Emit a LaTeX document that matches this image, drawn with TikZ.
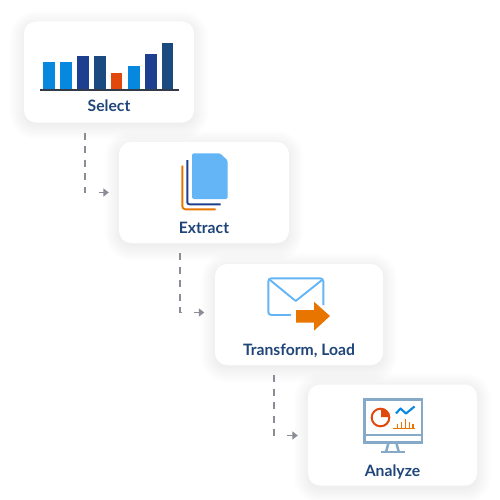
\documentclass[tikz,border=0pt]{standalone}
\usepackage{fontspec}
\setmainfont{Lato}
\usetikzlibrary{arrows.meta,calc}
\definecolor{txtc}{HTML}{1F4579}
\definecolor{blue1}{HTML}{0788DF}
\definecolor{navy1}{HTML}{1E3F8F}
\definecolor{navy2}{HTML}{1B4A80}
\definecolor{red1}{HTML}{E0480C}
\definecolor{org1}{HTML}{E87500}
\definecolor{sky1}{HTML}{63B5F6}
\definecolor{steel1}{HTML}{85A9C6}
\definecolor{gray1}{HTML}{8A8D96}
\definecolor{base1}{HTML}{333A4A}
\tikzset{
  x=1pt,y=-1pt,
  card/.style={draw=none,fill=white,rounded corners=12pt,inner sep=0pt,minimum width=#1,minimum height=101pt},
  lbl/.style={text=txtc,font=\fontsize{15.7}{17}\selectfont\bfseries,inner sep=0pt,anchor=base},
  conn/.style={draw=gray1,line width=1.9pt,dash pattern=on 7pt off 6.5pt},
  tipline/.style={draw=gray1,line width=1.9pt,-{Triangle[length=5.5pt,width=8pt]}},
  ico/.style={line width=1.9pt,line join=round}
}
\newcommand{\softshadow}[4]{%
  \foreach \d in {14,12,10,8,6,4,2,0}{
    \fill[black,opacity=0.008,rounded corners=12pt+\d pt]
      (#1-\d,#2-\d+3) rectangle (#3+\d,#4+\d+3);
  }}
\begin{document}
\begin{tikzpicture}
\useasboundingbox (0,0) rectangle (500,500);
\fill[white] (0,0) rectangle (500,500);
% shadows
\softshadow{24}{22}{194}{122}
\softshadow{119}{142}{289}{243}
\softshadow{215}{264}{383}{365}
\softshadow{308}{384}{477}{486}
% cards
\node[card=170pt] (c1) at (109,72) {};
\node[card=170pt] (c2) at (204,192.5) {};
\node[card=168pt] (c3) at (299,314.5) {};
\node[card=169pt] (c4) at (392.5,435) {};
% labels
\node[lbl] (t1) at (109,112) {Select};
\node[lbl] (t2) at (204,233) {Extract};
\node[lbl] (t3) at (299,355) {Transform, Load};
\node[lbl] (t4) at (392.5,476) {Analyze};
% connectors
\coordinate (s1) at ($(c1.south west)+(61,10)$);
\coordinate (e1) at ($(c2.west)+(-30,0)$);
\coordinate (a1) at ($(c2.west)+(-20,0)$);
\coordinate (b1) at ($(c2.west)+(-10,0)$);
\draw[conn] (s1) |- (e1);
\draw[tipline] (a1) -- (b1);
\coordinate (s2) at ($(c2.south west)+(61,10)$);
\coordinate (e2) at ($(c3.west)+(-30,-2)$);
\coordinate (a2) at ($(c3.west)+(-21,-2)$);
\coordinate (b2) at ($(c3.west)+(-10.5,-2)$);
\draw[conn] (s2) |- (e2);
\draw[tipline] (a2) -- (b2);
\coordinate (s3) at ($(c3.south west)+(59,10)$);
\coordinate (e3) at ($(c4.west)+(-30,0.5)$);
\coordinate (a3) at ($(c4.west)+(-20.5,0.5)$);
\coordinate (b3) at ($(c4.west)+(-10,0.5)$);
\draw[conn] (s3) |- (e3);
\draw[tipline] (a3) -- (b3);
% icon: bars
\fill[blue1] (43,62.5) rectangle (55,89);
\fill[blue1] (60,62.5) rectangle (72,89);
\fill[navy1] (77,56) rectangle (88.5,89);
\fill[navy2] (94,56) rectangle (105.5,89);
\fill[red1] (111,73.5) rectangle (122,89);
\fill[blue1] (128,66) rectangle (139.5,89);
\fill[navy1] (145,54) rectangle (156.5,89);
\fill[navy2] (162,43.5) rectangle (173,89);
\draw[base1,line width=2.2pt] (39.5,89.7) -- (178.5,89.7);
% icon: documents
\fill[sky1,rounded corners=1.5pt] (192,153.3) -- (220,153.3) -- (227.7,160.5) -- (227.7,199) -- (192,199) -- cycle;
\draw[navy1,ico,rounded corners=2pt] (187.3,160) -- (187.3,204.3) -- (220.7,204.3);
\draw[org1,ico,rounded corners=3pt] (182.3,165.7) -- (182.3,209.3) -- (215.7,209.3);
% icon: envelope
\draw[sky1,line width=1.9pt,rounded corners=3pt] (323.3,305) -- (323.3,278.3) -- (268.3,278.3) -- (268.3,315) -- (291,315);
\draw[sky1,line width=1.9pt,line join=round] (270,280) -- (295.7,301) -- (322,280);
\fill[org1] (296,310) -- (314,310) -- (314,301.7) -- (330,316) -- (314,330.7) -- (314,322.7) -- (296,322.7) -- cycle;
% icon: monitor
\draw[steel1,line width=2.5pt] (364.3,399.5) rectangle (422,442.7);
\draw[steel1,line width=2.5pt] (364.3,435) -- (422,435);
\draw[steel1,line width=2.5pt] (388.3,443.5) -- (386,452) (396.5,443.5) -- (398.8,452);
\draw[steel1,line width=2.5pt] (380.7,452) -- (405,452);
\draw[red1,line width=2pt] (380.5,417.5) circle (8.8pt);
\fill[red1] (381,417) -- (381,408.7) arc[start angle=90,end angle=0,radius=8.3pt] -- cycle;
\draw[blue1,line width=2.1pt,line join=round] (396,413.5) -- (400.5,408.5) -- (406,413.5) -- (414.5,406.5);
\draw[org1,line width=1.6pt] (392.5,428.3) -- (415,428.3);
\draw[org1,line width=1.5pt] (397.5,428) -- (397.5,423.5) (401.5,428) -- (401.5,422) (405.5,428) -- (405.5,418.5) (409.5,428) -- (409.5,422) (413,428) -- (413,423.5);
\end{tikzpicture}
\end{document}
